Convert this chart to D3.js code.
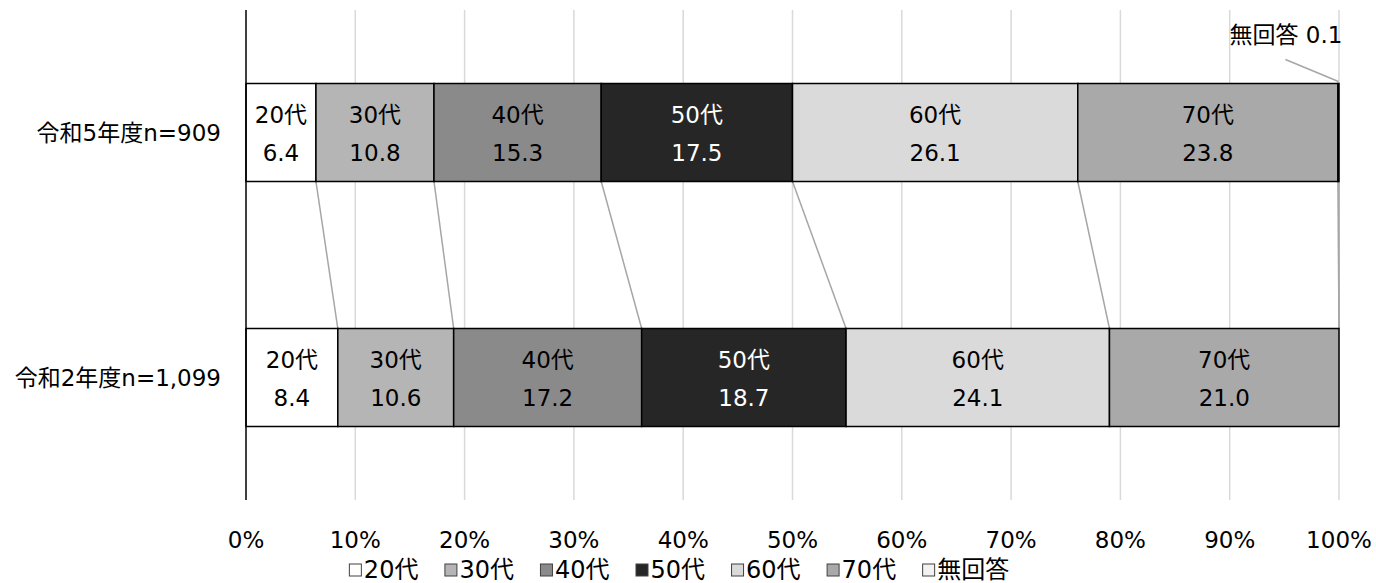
<!DOCTYPE html>
<html>
<head>
<meta charset="utf-8">
<script src="https://cdn.jsdelivr.net/npm/d3@7"></script>
<style>
body { margin: 0; background: #fff; }
text { font-family: "DejaVu Sans", "Noto Sans CJK JP", sans-serif; }
</style>
</head>
<body>
<div id="chart"></div>
<script>
// data
let categories = ['令和5年度n=909', '令和2年度n=1,099']
let ages = ['20代', '30代', '40代', '50代', '60代', '70代', '無回答']
let valuesR5 = [6.4, 10.8, 15.3, 17.5, 26.1, 23.8, 0.1]
let valuesR2 = [8.4, 10.6, 17.2, 18.7, 24.1, 21.0, 0]
let tickValues = [0, 10, 20, 30, 40, 50, 60, 70, 80, 90, 100]

let colors = ['#ffffff', '#b5b5b5', '#8a8a8a', '#262626', '#dadada', '#a9a9a9', '#f2f2f2']

let width = 1376
let height = 583
let plotLeft = 246, plotRight = 1339, plotTop = 10, plotBottom = 500
let fontSize = 23

const svg = d3.select('#chart')
	.append('svg')
	.attr('width', width)
	.attr('height', height)

let xScale = d3.scaleLinear()
	.domain([0, 100])
	.range([plotLeft, plotRight])

let yScale = d3.scaleBand()
	.domain(categories)
	.range([plotTop, plotBottom])
	.padding(0)

let barH = yScale.bandwidth() * 0.4

// gridlines
svg.selectAll('.grid')
	.data(tickValues.slice(1))
	.enter()
	.append('line')
	.attr('x1', d => xScale(d))
	.attr('x2', d => xScale(d))
	.attr('y1', plotTop)
	.attr('y2', plotBottom)
	.attr('stroke', '#d9d9d9')
	.attr('stroke-width', 1.5)

// stacked rows
let rows = [valuesR5, valuesR2].map(function(vals, r){
	let cum = 0
	return vals.map(function(v, i){
		let seg = {cat: categories[r], age: ages[i], value: v, x0: cum, x1: cum + v, i: i}
		cum += v
		return seg
	})
})

function barTop(cat){ return yScale(cat) + (yScale.bandwidth() - barH) / 2 }

// connector lines between the two bars
let conn = rows[0].map((d, i) => ({a: d.x1, b: rows[1][i].x1}))
svg.selectAll('.conn')
	.data(conn)
	.enter()
	.append('line')
	.attr('x1', d => xScale(d.a))
	.attr('x2', d => xScale(d.b))
	.attr('y1', barTop(categories[0]) + barH)
	.attr('y2', barTop(categories[1]))
	.attr('stroke', '#a6a6a6')
	.attr('stroke-width', 1.5)

rows.forEach(function(row){
	let g = svg.append('g')
	g.selectAll('rect')
		.data(row.filter(d => d.value > 0))
		.enter()
		.append('rect')
		.attr('x', d => xScale(d.x0))
		.attr('width', d => xScale(d.x1) - xScale(d.x0))
		.attr('y', d => barTop(d.cat))
		.attr('height', barH)
		.attr('fill', d => colors[d.i])
		.attr('stroke', '#000')
		.attr('stroke-width', 1.5)

	let labeled = row.filter(d => d.value >= 1)
	g.selectAll('.nm')
		.data(labeled)
		.enter()
		.append('text')
		.attr('x', d => xScale((d.x0 + d.x1) / 2))
		.attr('y', d => barTop(d.cat) + barH / 2 - 18)
		.attr('text-anchor', 'middle')
		.attr('dominant-baseline', 'central')
		.attr('font-size', fontSize)
		.attr('fill', d => d.i == 3 ? '#fff' : '#000')
		.text(d => d.age)
	g.selectAll('.val')
		.data(labeled)
		.enter()
		.append('text')
		.attr('x', d => xScale((d.x0 + d.x1) / 2))
		.attr('y', d => barTop(d.cat) + barH / 2 + 20)
		.attr('text-anchor', 'middle')
		.attr('dominant-baseline', 'central')
		.attr('font-size', fontSize)
		.attr('fill', d => d.i == 3 ? '#fff' : '#000')
		.text(d => d.value.toFixed(1))
})

// callout for tiny 無回答 segment
let tiny = rows[0][6]
let tx = xScale((tiny.x0 + tiny.x1) / 2)
svg.append('line')
	.attr('x1', tx)
	.attr('y1', barTop(tiny.cat) - 2)
	.attr('x2', tx - 53)
	.attr('y2', barTop(tiny.cat) - 24)
	.attr('stroke', '#a6a6a6')
	.attr('stroke-width', 1.5)
svg.append('text')
	.attr('x', tx + 4)
	.attr('y', 35)
	.attr('text-anchor', 'end')
	.attr('dominant-baseline', 'central')
	.attr('font-size', fontSize)
	.text(tiny.age + ' ' + tiny.value.toFixed(1))

// axis line
svg.append('line')
	.attr('x1', xScale(0))
	.attr('x2', xScale(0))
	.attr('y1', plotTop)
	.attr('y2', plotBottom)
	.attr('stroke', '#000')
	.attr('stroke-width', 1.5)

// x tick labels
svg.selectAll('.tick')
	.data(tickValues)
	.enter()
	.append('text')
	.attr('x', d => xScale(d))
	.attr('y', 540)
	.attr('text-anchor', 'middle')
	.attr('dominant-baseline', 'central')
	.attr('font-size', fontSize)
	.text(d => d + '%')

// category labels
svg.selectAll('.cat')
	.data(categories)
	.enter()
	.append('text')
	.attr('x', 221)
	.attr('y', d => yScale(d) + yScale.bandwidth() / 2)
	.attr('text-anchor', 'end')
	.attr('dominant-baseline', 'central')
	.attr('font-size', fontSize)
	.text(d => d)

// legend
let lg = svg.append('g')
let lx = 0
let legendGap = 26
ages.forEach(function(a, i){
	let item = lg.append('g').attr('transform', `translate(${lx},0)`)
	item.append('rect')
		.attr('x', 0.5)
		.attr('y', -6)
		.attr('width', 12)
		.attr('height', 12)
		.attr('fill', colors[i])
		.attr('stroke', '#404040')
		.attr('stroke-width', 1)
	let t = item.append('text')
		.attr('x', 15)
		.attr('y', 0)
		.attr('dominant-baseline', 'central')
		.attr('font-size', 24)
		.text(a)
	lx += 15 + t.node().getComputedTextLength() + legendGap
})
let lw = lx - legendGap
lg.attr('transform', `translate(${679 - lw / 2},570)`)
</script>
</body>
</html>
